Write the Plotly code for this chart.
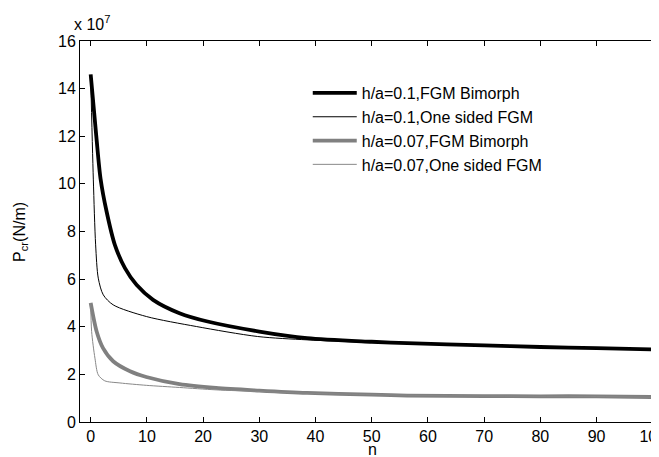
import plotly.graph_objects as go

# h/a=0.1, FGM Bimorph
n_a = [0, 1.0, 1.75, 2.83, 4.3, 6.1, 8.15, 11.1, 15.8, 20.8, 30, 38.5, 50, 56.3, 70, 80, 90, 100]
p_a = [14.6, 12.0, 10.23, 8.84, 7.44, 6.46, 5.76, 5.13, 4.57, 4.22, 3.8, 3.52, 3.37, 3.31, 3.22, 3.15, 3.1, 3.05]

# h/a=0.1, One sided FGM
n_b = [0, 0.47, 0.88, 1.35, 2.24, 4.0, 9.9, 18.8, 29.7, 38.5, 50, 60, 70, 80, 90, 100]
p_b = [14.5, 10.2, 7.44, 6.04, 5.34, 4.92, 4.43, 4.01, 3.59, 3.45, 3.34, 3.28, 3.2, 3.14, 3.09, 3.04]

# h/a=0.07, FGM Bimorph
n_c = [0, 1.06, 2.2, 4.0, 7.0, 9.9, 15.8, 22.3, 30, 38.5, 50, 56.3, 70, 80, 90, 100]
p_c = [5.0, 3.8, 3.1, 2.55, 2.13, 1.89, 1.59, 1.43, 1.32, 1.22, 1.15, 1.11, 1.09, 1.08, 1.08, 1.05]

# h/a=0.07, One sided FGM
n_d = [0, 0.17, 0.76, 1.35, 2.5, 5.2, 9.9, 15.8, 22.3, 30, 40, 50, 60, 70, 80, 90, 100]
p_d = [5.0, 3.8, 2.68, 1.98, 1.73, 1.64, 1.54, 1.45, 1.35, 1.28, 1.2, 1.15, 1.11, 1.09, 1.08, 1.07, 1.04]

names = ["h/a=0.1,FGM Bimorph", "h/a=0.1,One sided FGM",
         "h/a=0.07,FGM Bimorph", "h/a=0.07,One sided FGM"]
x_ticks = [0, 10, 20, 30, 40, 50, 60, 70, 80, 90, 100]
y_ticks = [0, 2, 4, 6, 8, 10, 12, 14, 16]

FONT = "Liberation Sans, Arial, sans-serif"
FS = 16

fig = go.Figure()
series = [(n_a, p_a, "#000000", 3.8), (n_b, p_b, "#000000", 1.0),
          (n_c, p_c, "#808080", 3.8), (n_d, p_d, "#888888", 1.0)]
for (x, y, c, w), nm in zip(series, names):
    fig.add_trace(go.Scatter(x=x, y=y, mode="lines", name=nm,
                             line=dict(color=c, width=w, shape="spline", smoothing=0.8)))

axis_common = dict(showgrid=False, zeroline=False, showline=True, linecolor="black",
                   linewidth=1, mirror="ticks", ticks="inside", ticklen=5,
                   tickcolor="black", ticklabeloverflow="allow",
                   tickfont=dict(family=FONT, size=FS, color="black"))

fig.update_layout(
    width=659, height=457,
    margin=dict(l=72, r=1, t=33, b=43),
    paper_bgcolor="white", plot_bgcolor="white",
    font=dict(family=FONT, size=FS, color="black"),
    showlegend=True,
    legend=dict(x=0.39, y=0.908, xanchor="left", yanchor="top",
                bgcolor="rgba(0,0,0,0)", borderwidth=0,
                font=dict(family=FONT, size=FS, color="black"),
                itemwidth=44, tracegroupgap=0),
    xaxis=dict(range=[-1.9, 102], tickvals=x_ticks, **axis_common),
    yaxis=dict(range=[0, 16], tickvals=y_ticks, **axis_common),
    annotations=[
        dict(text="x 10<sup>7</sup>", xref="paper", yref="paper",
             x=0, y=1, xanchor="left", yanchor="bottom", showarrow=False,
             xshift=-8, yshift=6, font=dict(family=FONT, size=FS, color="black")),
        dict(text="n", xref="paper", yref="paper", x=0.5, y=-0.072,
             xanchor="center", yanchor="middle", showarrow=False,
             font=dict(family=FONT, size=FS, color="black")),
        dict(text="P<sub>cr</sub>(N/m)", xref="paper", yref="paper", x=-0.102, y=0.5,
             xanchor="center", yanchor="middle", textangle=-90, showarrow=False,
             font=dict(family=FONT, size=FS, color="black")),
    ],
)

fig.write_html("out.html")
